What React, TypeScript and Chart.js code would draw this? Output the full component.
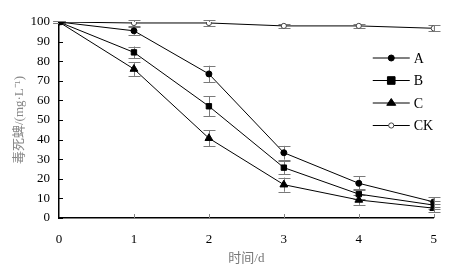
import React, { useEffect, useRef } from "react";
import { Chart, registerables } from "chart.js";

Chart.register(...registerables);

const days = [0, 1, 2, 3, 4, 5];
const seriesNames = ["A", "B", "C", "CK"];
const valuesA = [100, 95.5, 73.5, 33.3, 17.7, 8.2];
const valuesB = [100, 84.5, 57, 25.7, 12.2, 6.6];
const valuesC = [100, 76, 40.7, 17, 9.2, 5];
const valuesCK = [100, 99.5, 99.5, 98, 98, 96.8];
const errA = [0.5, 2, 4.2, 3.5, 3.5, 2.5];
const errB = [0.5, 3, 5, 3.5, 2.5, 2];
const errC = [0.5, 3.5, 4, 3.6, 2.5, 2];
const errCK = [0.5, 1.5, 1.5, 1, 1, 1.5];
const yTitle = "毒死蜱/(mg·L⁻¹)";
const xTitle = "时间/d";

const SERIF = "'Liberation Serif', 'Noto Sans CJK SC', serif";
Chart.defaults.font.family = SERIF;

function drawMarker(ctx: CanvasRenderingContext2D, style: string, r: number, fill: string, stroke: string, x: number, y: number) {
  ctx.save();
  ctx.fillStyle = fill;
  ctx.strokeStyle = stroke;
  ctx.lineWidth = 1;
  ctx.beginPath();
  if (style === "circle") {
    ctx.arc(x, y, r, 0, Math.PI * 2);
  } else if (style === "rect") {
    ctx.rect(x - r, y - r, 2 * r, 2 * r);
  } else if (style === "triangle") {
    const h = r * 1.5;
    ctx.moveTo(x, y - h * 0.66);
    ctx.lineTo(x + r, y + h * 0.34);
    ctx.lineTo(x - r, y + h * 0.34);
    ctx.closePath();
  }
  ctx.fill();
  ctx.stroke();
  ctx.restore();
}

const errorBarPlugin = {
  id: "errorBars",
  beforeDatasetsDraw(chart: any) {
    const ctx = chart.ctx;
    const ys = chart.scales.y;
    chart.data.datasets.forEach((ds: any, i: number) => {
      const meta = chart.getDatasetMeta(i);
      ctx.save();
      ctx.strokeStyle = "#7a7a7a";
      ctx.lineWidth = 1;
      meta.data.forEach((pt: any, j: number) => {
        const v = ds.data[j].y;
        const e = ds.errors[j];
        if (!e) return;
        const x = Math.round(pt.x) + 0.5;
        const top = ys.getPixelForValue(v + e);
        const bot = ys.getPixelForValue(v - e);
        ctx.beginPath();
        ctx.moveTo(x, top);
        ctx.lineTo(x, bot);
        ctx.moveTo(x - 6, Math.round(top) + 0.5);
        ctx.lineTo(x + 6, Math.round(top) + 0.5);
        ctx.moveTo(x - 6, Math.round(bot) + 0.5);
        ctx.lineTo(x + 6, Math.round(bot) + 0.5);
        ctx.stroke();
      });
      ctx.restore();
    });
  },
};

const axesPlugin = {
  id: "innerTicks",
  afterDraw(chart: any) {
    const ctx = chart.ctx;
    const { left, bottom } = chart.chartArea;
    const xs = chart.scales.x;
    const ys = chart.scales.y;
    ctx.save();
    ctx.strokeStyle = "#000";
    ctx.lineWidth = 1;
    ctx.beginPath();
    ys.ticks.forEach((t: any) => {
      const y = Math.round(ys.getPixelForValue(t.value)) + 0.5;
      ctx.moveTo(left, y);
      ctx.lineTo(left + 4, y);
    });
    ctx.stroke();
    ctx.strokeStyle = "#888";
    ctx.beginPath();
    xs.ticks.forEach((t: any) => {
      if (t.value === 0) return;
      const x = Math.round(xs.getPixelForValue(t.value)) + 0.5;
      ctx.moveTo(x, bottom);
      ctx.lineTo(x, bottom - 4);
    });
    ctx.stroke();
    ctx.restore();
  },
};

const legendPlugin = {
  id: "customLegend",
  afterDraw(chart: any) {
    const ctx = chart.ctx;
    const { right, top } = chart.chartArea;
    const x0 = right - 61;
    const x1 = right - 24;
    const xm = (x0 + x1) / 2;
    ctx.save();
    chart.data.datasets.forEach((ds: any, i: number) => {
      const y = top + 36 + i * 22.5;
      ctx.strokeStyle = "#000";
      ctx.lineWidth = 1;
      ctx.beginPath();
      ctx.moveTo(x0, y);
      ctx.lineTo(x1, y);
      ctx.stroke();
      drawMarker(ctx, ds.pointStyle, ds.pointRadius, ds.pointBackgroundColor, ds.pointBorderColor, xm, y);
      ctx.fillStyle = "#000";
      ctx.font = `14px ${SERIF}`;
      ctx.textBaseline = "middle";
      ctx.textAlign = "left";
      ctx.fillText(seriesNames[i], x1 + 4, y + 1);
    });
    ctx.restore();
  },
};

function pts(vals: number[]) {
  return days.map((d, i) => ({ x: d, y: vals[i] }));
}

export default function App() {
  const ref = useRef<HTMLCanvasElement | null>(null);
  useEffect(() => {
    document.body.style.margin = "0";
    const canvas = ref.current!;
    const ctx2 = canvas.getContext("2d")!;
    const mk = (name: string, vals: number[], errs: number[], style: string, r: number, fill: string, bcol: string) => ({
      label: name,
      data: pts(vals),
      errors: errs,
      borderColor: "#000",
      borderWidth: 1,
      pointStyle: style,
      pointRadius: r,
      pointBackgroundColor: fill,
      pointBorderColor: bcol,
      pointBorderWidth: 1,
      backgroundColor: fill,
      fill: false,
      tension: 0,
    });
    const chart = new Chart(ctx2, {
      type: "line",
      data: {
        datasets: [
          mk("A", valuesA, errA, "circle", 3, "#000", "#000"),
          mk("B", valuesB, errB, "rect", 3.8, "#000", "#000"),
          mk("C", valuesC, errC, "triangle", 4.5, "#000", "#000"),
          mk("CK", valuesCK, errCK, "circle", 2.6, "#fff", "#444"),
        ] as any,
      },
      options: {
        animation: false,
        responsive: false,
        maintainAspectRatio: false,
        layout: { padding: { left: 12, right: 17, top: 22, bottom: 0 } },
        plugins: { legend: { display: false }, tooltip: { enabled: false } },
        scales: {
          x: {
            type: "linear",
            min: 0,
            max: 5,
            ticks: { stepSize: 1, color: "#000", font: { family: SERIF, size: 13 }, padding: 14 },
            grid: { display: false, drawTicks: false },
            border: { display: true, color: "#000", width: 1.5 },
            title: { display: true, text: xTitle, color: "#777", font: { family: SERIF, size: 13 }, padding: { top: 0, bottom: 2 } },
            afterFit: (s: any) => { s.height = 50; },
          },
          y: {
            min: 0,
            max: 100,
            ticks: { stepSize: 10, color: "#000", font: { family: SERIF, size: 13 }, padding: 9 },
            grid: { display: false, drawTicks: false },
            border: { display: true, color: "#000", width: 1.5 },
            title: { display: true, text: yTitle, color: "#888", font: { family: SERIF, size: 13 }, padding: { top: 0, bottom: 2 } },
            afterFit: (s: any) => { s.width = 47; },
          },
        },
      },
      plugins: [errorBarPlugin, axesPlugin, legendPlugin],
    } as any);
    return () => chart.destroy();
  }, []);
  return (
    <div style={{ width: 451, height: 268 }}>
      <canvas ref={ref} width={451} height={268} style={{ width: 451, height: 268, display: "block" }} />
    </div>
  );
}
